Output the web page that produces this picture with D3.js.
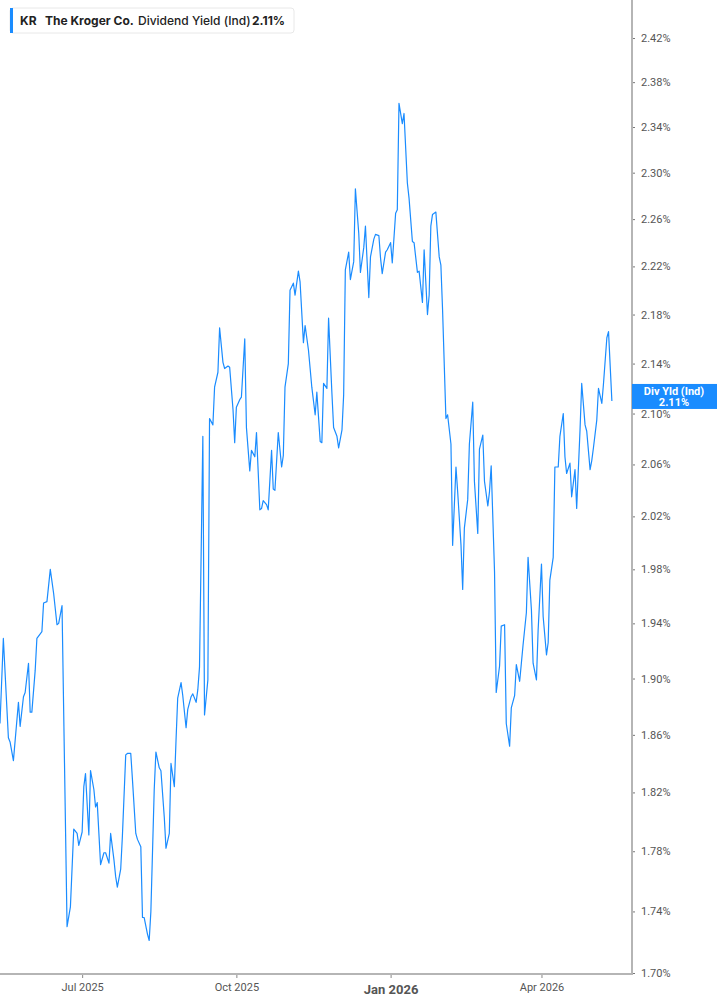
<!DOCTYPE html>
<html>
<head>
<meta charset="utf-8">
<script src="https://cdn.jsdelivr.net/npm/d3@7"></script>
<style>
  body { margin: 0; background: #fff; }
  svg { display: block; }
</style>
</head>
<body>
<svg id="chart" width="717" height="1005"></svg>
<script>
// *** Data ***

// first trading day shown, and days elapsed since it for each close
var startDate = "2025-05-13";
var dayOffsets = [
  0, 2, 5, 6, 8, 11, 12, 14, 15, 17, 18, 19, 21, 22, 25, 26, 28, 30, 32, 34,
  35, 37, 40, 42, 44, 46, 47, 49, 50, 51, 53, 54, 56, 57, 58, 60, 62, 63, 65, 66,
  68, 69, 70, 72, 73, 75, 76, 78, 79, 81, 82, 84, 85, 86, 88, 89, 90, 92, 93, 95,
  96, 98, 99, 101, 102, 104, 105, 106, 108, 109, 111, 112, 114, 115, 117, 118, 119, 121, 122, 124,
  125, 127, 128, 130, 131, 133, 134, 136, 137, 139, 140, 141, 143, 144, 146, 147, 149, 150, 152, 153,
  155, 156, 157, 159, 160, 162, 163, 164, 166, 168, 169, 170, 172, 173, 175, 176, 178, 179, 181, 182,
  184, 185, 186, 188, 189, 191, 192, 193, 195, 196, 198, 199, 201, 202, 204, 205, 206, 208, 209, 211,
  212, 214, 215, 217, 218, 220, 221, 223, 224, 226, 227, 228, 230, 231, 233, 234, 236, 237, 238, 240,
  241, 243, 244, 246, 247, 249, 250, 252, 253, 255, 256, 257, 258, 260, 262, 263, 264, 266, 267, 269,
  270, 272, 273, 275, 276, 277, 279, 280, 282, 283, 285, 286, 288, 289, 291, 292, 293, 295, 296, 298,
  299, 301, 302, 304, 305, 307, 308, 310, 311, 312, 314, 315, 317, 318, 320, 321, 323, 324, 326, 327,
  328, 330, 331, 333, 334, 336, 337, 338, 340, 341, 343, 344, 346, 347, 349, 350, 352, 353, 354, 356,
  357, 359, 360, 362, 363, 365
];
// dividend yield (indicated), percent
var yieldValues = [
  1.868, 1.929, 1.858, 1.855, 1.842, 1.883, 1.866, 1.887, 1.890, 1.911, 1.876, 1.876, 1.906, 1.929, 1.934, 1.955, 1.956, 1.980, 1.962, 1.939,
  1.940, 1.953, 1.730, 1.743, 1.795, 1.792, 1.784, 1.793, 1.824, 1.833, 1.791, 1.835, 1.822, 1.810, 1.813, 1.771, 1.779, 1.779, 1.772, 1.792,
  1.774, 1.763, 1.756, 1.768, 1.790, 1.846, 1.847, 1.847, 1.829, 1.792, 1.788, 1.783, 1.736, 1.736, 1.725, 1.721, 1.740, 1.822, 1.848, 1.837,
  1.835, 1.803, 1.782, 1.792, 1.840, 1.824, 1.856, 1.886, 1.897, 1.888, 1.865, 1.878, 1.887, 1.889, 1.883, 1.892, 1.908, 2.082, 1.874, 1.899,
  2.096, 2.091, 2.121, 2.133, 2.169, 2.141, 2.136, 2.138, 2.137, 2.103, 2.077, 2.105, 2.111, 2.113, 2.160, 2.089, 2.055, 2.071, 2.066, 2.085,
  2.025, 2.026, 2.032, 2.029, 2.025, 2.071, 2.041, 2.040, 2.085, 2.058, 2.067, 2.121, 2.140, 2.200, 2.206, 2.196, 2.216, 2.207, 2.157, 2.171,
  2.151, 2.136, 2.121, 2.099, 2.117, 2.078, 2.077, 2.124, 2.120, 2.177, 2.116, 2.089, 2.082, 2.073, 2.087, 2.115, 2.217, 2.232, 2.209, 2.224,
  2.286, 2.248, 2.215, 2.236, 2.254, 2.194, 2.228, 2.243, 2.247, 2.246, 2.227, 2.214, 2.232, 2.234, 2.240, 2.223, 2.265, 2.268, 2.361, 2.343,
  2.352, 2.291, 2.278, 2.241, 2.240, 2.215, 2.216, 2.190, 2.234, 2.180, 2.196, 2.254, 2.264, 2.266, 2.228, 2.221, 2.184, 2.096, 2.099, 2.076,
  1.998, 2.058, 2.039, 1.998, 1.965, 2.011, 2.033, 2.076, 2.109, 2.047, 2.007, 2.072, 2.083, 2.047, 2.028, 2.039, 2.059, 1.978, 1.890, 1.909,
  1.938, 1.939, 1.868, 1.852, 1.879, 1.888, 1.910, 1.898, 1.911, 1.924, 1.948, 1.989, 1.950, 1.911, 1.899, 1.935, 1.984, 1.945, 1.917, 1.926,
  1.972, 1.989, 2.058, 2.058, 2.082, 2.100, 2.066, 2.053, 2.061, 2.035, 2.056, 2.026, 2.087, 2.124, 2.091, 2.086, 2.056, 2.063, 2.073, 2.095,
  2.120, 2.108, 2.124, 2.161, 2.166, 2.110
];

var yTicks = [1.70, 1.74, 1.78, 1.82, 1.86, 1.90, 1.94, 1.98, 2.02, 2.06, 2.10, 2.14, 2.18, 2.22, 2.26, 2.30, 2.34, 2.38, 2.42];
var xTicks = ["2025-07-01", "2025-10-01", "2026-01-01", "2026-04-01"];
var xTickLabels = ["Jul 2025", "Oct 2025", "Jan 2026", "Apr 2026"];
var xDomain = ["2025-05-13", "2026-05-25"];
var yDomain = [1.70, 2.455];

var ticker = "KR";
var companyName = "The Kroger Co.";
var seriesName = "Dividend Yield (Ind)";
var shortName = "Div Yld (Ind)";

// *** D3 Chart building ***

var parseDate = d3.utcParse("%Y-%m-%d");
var start = parseDate(startDate);
var data = yieldValues.map(function (v, i) {
    return {date: d3.utcDay.offset(start, dayOffsets[i]), value: v};
});
var lastValue = data[data.length - 1].value;

var chart = d3.select("#chart");
var plotWidth = 632, plotHeight = 973;
var axisColor = "#b5b5b5", lineColor = "#1a8cff";

var x = d3.scaleUtc().domain(xDomain.map(parseDate)).range([0, plotWidth]);
var y = d3.scaleLog().domain(yDomain).range([plotHeight, 0]);

var lineMaker = d3.line()
    .x(d => x(d.date))
    .y(d => y(d.value));

chart.append("path")
    .attr("class", "graph")
    .attr("fill", "none")
    .attr("stroke", lineColor)
    .attr("stroke-width", 1.2)
    .attr("stroke-linejoin", "round")
    .attr("d", lineMaker(data));

// right axis
var yAxisG = chart.append("g")
    .attr("transform", "translate(" + plotWidth + ",0)")
    .call(d3.axisRight(y).tickValues(yTicks).tickSize(3).tickPadding(6)
        .tickFormat(d => d3.format(".2f")(d) + "%"));
yAxisG.select(".domain").remove();
yAxisG.selectAll(".tick line").attr("stroke", "#777");
yAxisG.selectAll(".tick text")
    .attr("fill", "#555")
    .style("font-family", "Roboto, 'Liberation Sans', sans-serif")
    .style("font-size", "11px");
chart.append("line")
    .attr("x1", plotWidth).attr("x2", plotWidth)
    .attr("y1", 0).attr("y2", plotHeight + 1)
    .attr("stroke", axisColor).attr("stroke-width", 2);

// bottom axis
var xAxisG = chart.append("g")
    .attr("transform", "translate(0," + (plotHeight + 1) + ")")
    .call(d3.axisBottom(x).tickValues(xTicks.map(parseDate)).tickSize(4).tickPadding(5)
        .tickFormat((d, i) => xTickLabels[i]));
xAxisG.select(".domain").remove();
xAxisG.selectAll(".tick line").attr("stroke", "#888");
xAxisG.selectAll(".tick text")
    .attr("fill", "#555")
    .style("font-family", "Roboto, 'Liberation Sans', sans-serif")
    .style("font-size", "11px")
    .filter(d => d.getUTCMonth() === 0)
    .style("font-size", "13px")
    .style("font-weight", "bold")
    .attr("dy", "0.85em");
chart.append("line")
    .attr("x1", 0).attr("x2", plotWidth + 1)
    .attr("y1", plotHeight + 1).attr("y2", plotHeight + 1)
    .attr("stroke", axisColor).attr("stroke-width", 2);

// current value label on the axis (sits a little above the last value)
var labelY = y(lastValue);
chart.append("rect")
    .attr("x", plotWidth).attr("y", labelY - 17)
    .attr("width", 717 - plotWidth).attr("height", 25)
    .attr("fill", lineColor);
var labelText = chart.append("text")
    .attr("text-anchor", "middle")
    .attr("fill", "#fff")
    .style("font-family", "Roboto, 'Liberation Sans', sans-serif")
    .style("font-size", "11px")
    .style("font-weight", "bold");
labelText.append("tspan").attr("x", 674).attr("y", labelY - 6).text(shortName);
labelText.append("tspan").attr("x", 674).attr("y", labelY + 5).text(d3.format(".2f")(lastValue) + "%");

// legend box
var legendG = chart.append("g").attr("transform", "translate(10,8)");
legendG.append("rect")
    .attr("x", 0).attr("y", 0)
    .attr("width", 284).attr("height", 25)
    .attr("rx", 3)
    .attr("fill", "#fff")
    .attr("stroke", "#e8e8e8");
legendG.append("rect")
    .attr("x", 0).attr("y", 0)
    .attr("width", 3).attr("height", 25)
    .attr("fill", lineColor);
var legendText = legendG.append("text")
    .attr("y", 17)
    .attr("fill", "#222")
    .style("font-family", "Inter, 'Noto Sans', sans-serif")
    .style("font-size", "12px");
legendText.append("tspan").attr("x", 10).style("font-weight", "bold").text(ticker);
legendText.append("tspan").attr("x", 35).style("font-weight", "bold").text(companyName);
legendText.append("tspan").attr("x", 128).style("font-weight", 500).text(seriesName);
legendText.append("tspan").attr("x", 242).style("font-weight", "bold").text(d3.format(".2f")(lastValue) + "%");
</script>
</body>
</html>
